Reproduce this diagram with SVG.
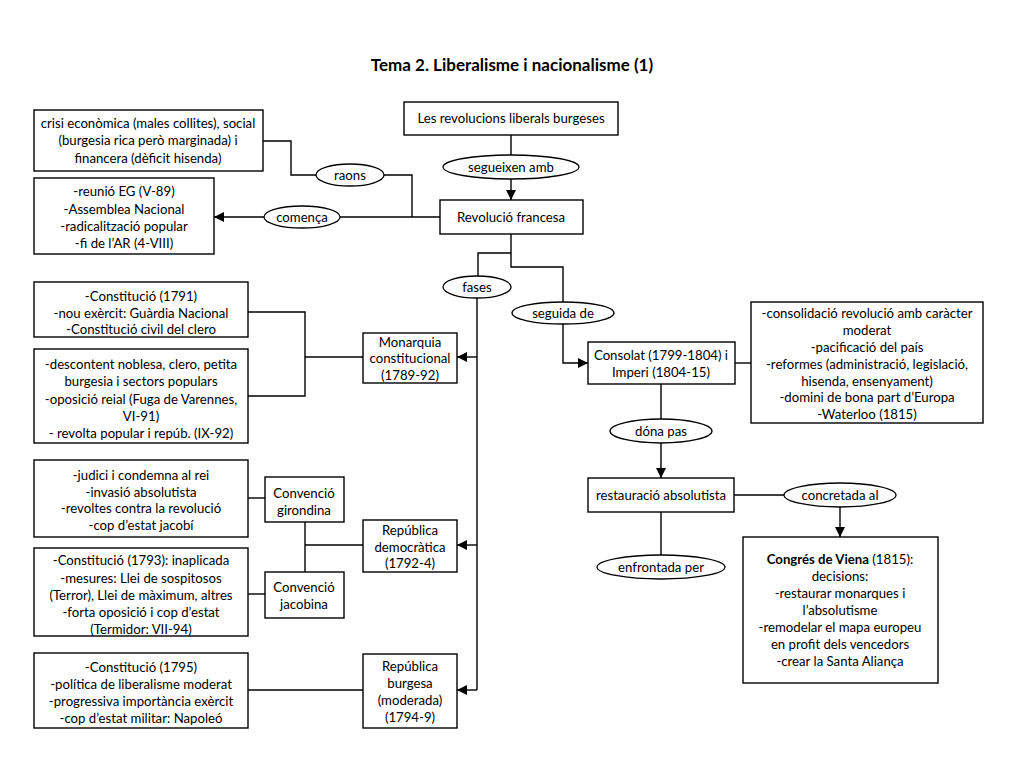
<svg xmlns="http://www.w3.org/2000/svg" width="1024" height="768" viewBox="0 0 1024 768">
<defs>
<marker id="arr" viewBox="0 0 10 10" refX="10" refY="5" markerWidth="10" markerHeight="10" markerUnits="userSpaceOnUse" orient="auto">
<path d="M0,0 L10,5 L0,10 z" fill="#000"/>
</marker>
<style>
rect{fill:#fff;stroke:#000;stroke-width:1.4}
ellipse{fill:#fff;stroke:#000;stroke-width:1.3}
text{font-family:Lato,"Liberation Sans",sans-serif;font-size:13.2px;fill:#000;text-anchor:middle}
.title{font-size:17px;font-weight:bold}
.c{fill:none;stroke:#000;stroke-width:1.4}
.a{fill:none;stroke:#000;stroke-width:1.4;marker-end:url(#arr)}
</style>
</defs>
<rect x="0" y="0" width="1024" height="768" style="fill:#fff;stroke:none"/>
<text class="title" x="512" y="71">Tema 2. Liberalisme i nacionalisme (1)</text>

<g id="connectors">
<path class="a" d="M511,135 V200"/>
<path class="c" d="M263,141 H291 V175 H316"/>
<path class="c" d="M384,175 H412 V217"/>
<path class="c" d="M440,217 H340"/>
<path class="a" d="M264,217 H214"/>
<path class="c" d="M511,234 V267 H563 V302"/>
<path class="c" d="M511,253 H478 V276"/>
<path class="a" d="M563,324 V363 H588"/>
<path class="c" d="M735,363 H751"/>
<path class="c" d="M661,384 V419"/>
<path class="a" d="M661,443 V478"/>
<path class="c" d="M734,495 H784"/>
<path class="a" d="M840,507 V537"/>
<path class="c" d="M661,512 V555"/>
<path class="c" d="M477,298 V690"/>
<path class="a" d="M477,357 H457"/>
<path class="a" d="M477,545 H457"/>
<path class="a" d="M477,690 H457"/>
<path class="c" d="M248,312 H305 V396 H248"/>
<path class="c" d="M305,357 H363"/>
<path class="c" d="M248,498 H265"/>
<path class="c" d="M248,594 H265"/>
<path class="c" d="M305,522 V572"/>
<path class="c" d="M305,545 H363"/>
<path class="c" d="M248,690 H363"/>
</g>

<g id="n-les"><rect x="404" y="102" width="214" height="33"/><text x="511" y="123">Les revolucions liberals burgeses</text></g>
<g id="e-segueixen"><ellipse cx="511" cy="167" rx="68" ry="12"/><text x="511" y="172">segueixen amb</text></g>
<g id="n-revfr"><rect x="440" y="200" width="143" height="34"/><text x="511" y="222">Revolució francesa</text></g>
<g id="n-crisi"><rect x="34" y="110" width="229" height="61"/>
<text x="148" y="128">crisi econòmica (males collites), social</text>
<text x="148" y="145">(burgesia rica però marginada) i</text>
<text x="148" y="163">financera (dèficit hisenda)</text></g>
<g id="e-raons"><ellipse cx="350" cy="175" rx="34" ry="11"/><text x="350" y="180">raons</text></g>
<g id="e-comenca"><ellipse cx="302" cy="217" rx="38" ry="11"/><text x="302" y="222">comença</text></g>
<g id="n-reunio"><rect x="34" y="178" width="180" height="76"/>
<text x="124" y="196">-reunió EG (V-89)</text>
<text x="124" y="214">-Assemblea Nacional</text>
<text x="124" y="231">-radicalització popular</text>
<text x="124" y="248">-fi de l’AR (4-VIII)</text></g>
<g id="e-fases"><ellipse cx="477" cy="287" rx="34" ry="11"/><text x="477" y="292">fases</text></g>
<g id="e-seguida"><ellipse cx="563" cy="313" rx="51" ry="11"/><text x="563" y="318">seguida de</text></g>
<g id="n-consolat"><rect x="588" y="342" width="147" height="42"/>
<text x="661" y="360">Consolat (1799-1804) i</text>
<text x="661" y="377">Imperi (1804-15)</text></g>
<g id="n-consolidacio"><rect x="751" y="302" width="232" height="121"/>
<text x="867" y="318">-consolidació revolució amb caràcter</text>
<text x="867" y="335">moderat</text>
<text x="867" y="352">-pacificació del país</text>
<text x="867" y="369">-reformes (administració, legislació,</text>
<text x="867" y="386">hisenda, ensenyament)</text>
<text x="867" y="402">-domini de bona part d’Europa</text>
<text x="867" y="419">-Waterloo (1815)</text></g>
<g id="e-donapas"><ellipse cx="661" cy="431" rx="51" ry="12"/><text x="661" y="436">dóna pas</text></g>
<g id="n-restauracio"><rect x="588" y="478" width="146" height="34"/><text x="661" y="500">restauració absolutista</text></g>
<g id="e-concretada"><ellipse cx="840" cy="495" rx="56" ry="12"/><text x="840" y="500">concretada al</text></g>
<g id="e-enfrontada"><ellipse cx="661" cy="567" rx="64" ry="12"/><text x="661" y="572">enfrontada per</text></g>
<g id="n-congres"><rect x="743" y="537" width="195" height="146"/>
<text x="840" y="564"><tspan font-weight="bold">Congrés de Viena</tspan> (1815):</text>
<text x="840" y="581">decisions:</text>
<text x="840" y="598">-restaurar monarques i</text>
<text x="840" y="615">l’absolutisme</text>
<text x="840" y="632">-remodelar el mapa europeu</text>
<text x="840" y="649">en profit dels vencedors</text>
<text x="840" y="666">-crear la Santa Aliança</text></g>

<g id="n-monarquia"><rect x="363" y="333" width="94" height="50"/>
<text x="410" y="347">Monarquia</text>
<text x="410" y="363">constitucional</text>
<text x="410" y="380">(1789-92)</text></g>
<g id="n-const1791"><rect x="34" y="282" width="214" height="55"/>
<text x="141" y="301">-Constitució (1791)</text>
<text x="141" y="318">-nou exèrcit: Guàrdia Nacional</text>
<text x="141" y="334">-Constitució civil del clero</text></g>
<g id="n-descontent"><rect x="34" y="349" width="214" height="94"/>
<text x="141" y="369">-descontent noblesa, clero, petita</text>
<text x="141" y="386">burgesia i sectors populars</text>
<text x="141" y="404">-oposició reial (Fuga de Varennes,</text>
<text x="141" y="421">VI-91)</text>
<text x="141" y="438">- revolta popular i repúb. (IX-92)</text></g>

<g id="n-repdem"><rect x="363" y="520" width="94" height="52"/>
<text x="410" y="535">República</text>
<text x="410" y="552">democràtica</text>
<text x="410" y="568">(1792-4)</text></g>
<g id="n-girondina"><rect x="265" y="477" width="79" height="45"/>
<text x="304" y="498">Convenció</text>
<text x="304" y="515">girondina</text></g>
<g id="n-jacobina"><rect x="265" y="572" width="79" height="46"/>
<text x="304" y="592">Convenció</text>
<text x="304" y="609">jacobina</text></g>
<g id="n-judici"><rect x="34" y="460" width="214" height="77"/>
<text x="141" y="480">-judici i condemna al rei</text>
<text x="141" y="497">-invasió absolutista</text>
<text x="141" y="513">-revoltes contra la revolució</text>
<text x="141" y="530">-cop d’estat jacobí</text></g>
<g id="n-const1793"><rect x="34" y="548" width="214" height="88"/>
<text x="141" y="565">-Constitució (1793): inaplicada</text>
<text x="141" y="583">-mesures: Llei de sospitosos</text>
<text x="141" y="600">(Terror), Llei de màximum, altres</text>
<text x="141" y="617">-forta oposició i cop d’estat</text>
<text x="141" y="634">(Termidor: VII-94)</text></g>

<g id="n-repburg"><rect x="363" y="654" width="94" height="74"/>
<text x="410" y="671">República</text>
<text x="410" y="688">burgesa</text>
<text x="410" y="705">(moderada)</text>
<text x="410" y="722">(1794-9)</text></g>
<g id="n-const1795"><rect x="34" y="653" width="214" height="75"/>
<text x="141" y="672">-Constitució (1795)</text>
<text x="141" y="689">-política de liberalisme moderat</text>
<text x="141" y="706">-progressiva importància exèrcit</text>
<text x="141" y="723">-cop d’estat militar: Napoleó</text></g>
</svg>
